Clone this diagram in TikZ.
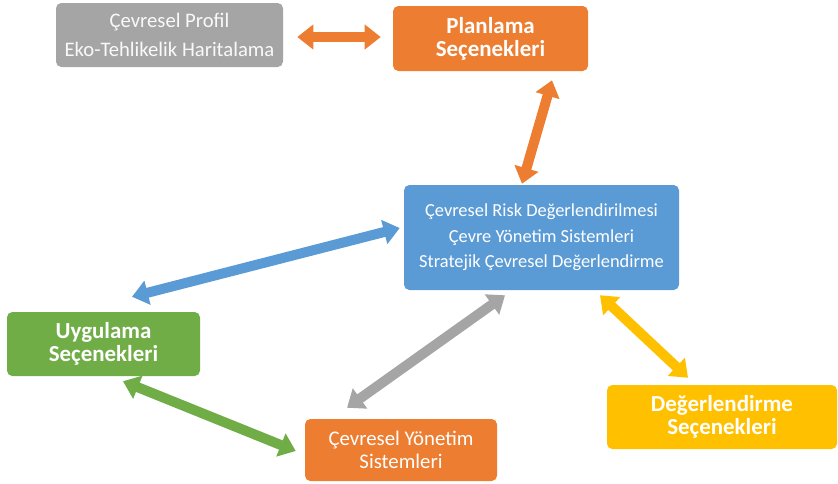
\documentclass[tikz,border=0pt]{standalone}
\usepackage{fontspec}
\setmainfont{Carlito}
\usepackage{xcolor}
\usetikzlibrary{arrows.meta}

\definecolor{turuncu}{HTML}{ED7D31}
\definecolor{mavi}{HTML}{5B9BD5}
\definecolor{yesil}{HTML}{70AD47}
\definecolor{sari}{HTML}{FFC000}
\definecolor{gri}{HTML}{A5A5A5}

\begin{document}
\begin{tikzpicture}[x=0.75pt, y=-0.75pt,
  box/.style={rectangle, rounded corners=4pt, text=white, align=center, inner sep=0pt},
  ince/.style={font=\fontsize{15.6}{17.5}\selectfont},
  kalin/.style={font=\bfseries\fontsize{17.2}{17.3}\selectfont},
  cift/.style={line width=7.5pt, {Triangle[length=12pt,width=18pt]}-{Triangle[length=12pt,width=18pt]}}]
\useasboundingbox (0,0) rectangle (838,483);

% Kutular
\node[box, font=\fontsize{15.5}{22}\selectfont, fill=gri, text=white!95!gray, minimum width=170.25pt, minimum height=48pt] (profil) at (169.5,35) {Çevresel Profil\\Eko-Tehlikelik Haritalama};

\node[box, kalin, fill=turuncu, minimum width=146.25pt, minimum height=48.75pt] (planlama) at (490.5,38.5) {Planlama\\Seçenekleri};

\node[box, fill=mavi, font=\fontsize{13.8}{19}\selectfont, minimum width=206.25pt, minimum height=78.75pt] (risk) at (541.5,237.5) {Çevresel Risk Değerlendirilmesi\\Çevre Yönetim Sistemleri\\Stratejik Çevresel Değerlendirme};

\node[box, kalin, fill=yesil, minimum width=144.75pt, minimum height=48pt] (uygulama) at (103.5,344) {Uygulama\\Seçenekleri};

\node[box, ince, fill=turuncu, minimum width=144pt, minimum height=46.5pt] (yonetim) at (401,450) {Çevresel Yönetim\\Sistemleri};

\node[box, kalin, fill=sari, minimum width=172.5pt, minimum height=48pt] (deger) at (722,417) {Değerlendirme\\Seçenekleri};

% Oklar
\draw[cift, turuncu] ([shift={(14,2)}]profil.east) -- ([shift={(-12,-1.5)}]planlama.west);
\draw[cift, turuncu] ([shift={(61.5,9)}]planlama.south) -- ([shift={(-19.5,-1)}]risk.north);
\draw[cift, mavi] ([shift={(-4,-9.5)}]risk.west) -- ([shift={(28.5,-15)}]uygulama.north);
\draw[cift, yesil] ([shift={(19.5,5)}]uygulama.south) -- ([shift={(-9,1)}]yonetim.west);
\draw[cift, gri] ([shift={(-54,-11)}]yonetim.north) -- ([shift={(-36.5,5)}]risk.south);
\draw[cift, sari] ([shift={(58.5,5)}]risk.south) -- ([shift={(-34,-7)}]deger.north);
\end{tikzpicture}
\end{document}
